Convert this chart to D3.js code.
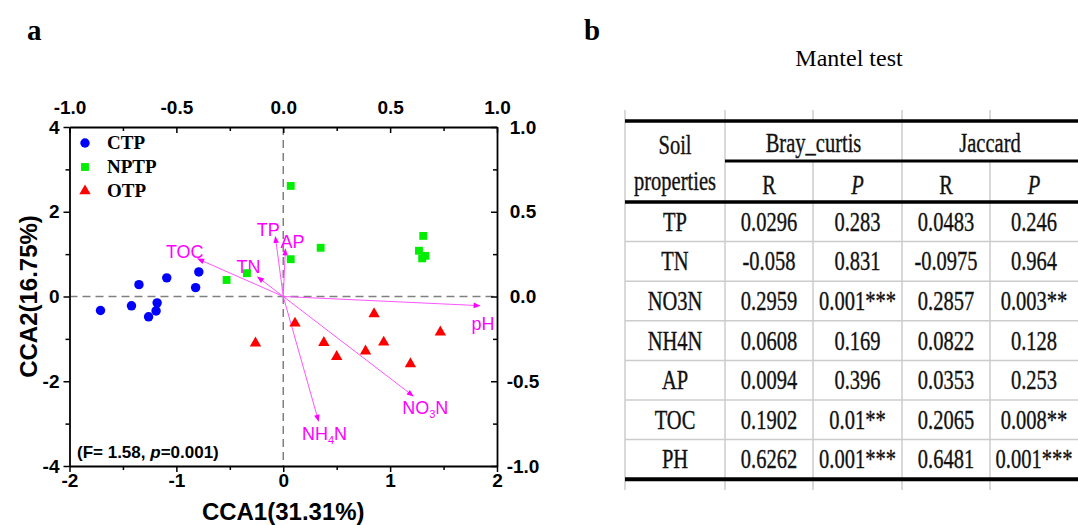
<!DOCTYPE html>
<html>
<head>
<meta charset="utf-8">
<script src="https://cdn.jsdelivr.net/npm/d3@7"></script>
<style>
  body { margin: 0; background: #fff; }
  svg { display: block; }
</style>
</head>
<body>
<svg width="1078" height="525"></svg>
<script>
// ---- panel a : CCA scores (CCA1, CCA2) ----
const ctpX  = [-1.71, -1.42, -1.35, -1.18, -1.19, -1.26, -1.09, -0.79, -0.82];
const ctpY  = [-0.33, -0.22,  0.28, -0.15, -0.34, -0.48,  0.44,  0.58,  0.21];
const nptpX = [0.07, 0.35, 0.07, -0.34, -0.53, 1.31, 1.27, 1.33, 1.30];
const nptpY = [2.61, 1.15, 0.88,  0.55,  0.39, 1.43, 1.08, 0.96, 0.90];
const otpX  = [-0.26,  0.11,  0.38,  0.50,  0.77,  0.85,  0.94,  1.19,  1.47];
const otpY  = [-1.10, -0.63, -1.09, -1.42, -1.29, -0.41, -1.08, -1.59, -0.84];

// environmental vectors, read on the top / right axes (-1..1)
const envNames = ["pH", "NO3N", "NH4N", "TP", "AP", "TN", "TOC"];
const envX = [0.92, 0.608, 0.165, -0.037, 0.010, -0.12, -0.40];
const envY = [-0.054, -0.587, -0.735, 0.353, 0.280, 0.115, 0.222];

const xTicks = [-2, -1, 0, 1, 2];
const yTicks = [-4, -2, 0, 2, 4];
const x2Ticks = [-1, -0.5, 0, 0.5, 1];
const y2Ticks = [-1, -0.5, 0, 0.5, 1];

// ---- panel b : Mantel test table ----
const soilProps = ["TP", "TN", "NO3N", "NH4N", "AP", "TOC", "PH"];
const brayR = ["0.0296", "-0.058", "0.2959", "0.0608", "0.0094", "0.1902", "0.6262"];
const brayP = ["0.283", "0.831", "0.001***", "0.169", "0.396", "0.01**", "0.001***"];
const jacR  = ["0.0483", "-0.0975", "0.2857", "0.0822", "0.0353", "0.2065", "0.6481"];
const jacP  = ["0.246", "0.964", "0.003**", "0.128", "0.253", "0.008**", "0.001***"];

const svg = d3.select("svg");
const sans = "Arial, 'Liberation Sans', sans-serif";
const serif = "'Times New Roman', 'Liberation Serif', serif";
const magenta = "#ff00ff";

// scales
const x = d3.scaleLinear().domain([-2, 2]).range([69.5, 497]);
const y = d3.scaleLinear().domain([-4, 4]).range([466, 127]);
const x2 = d3.scaleLinear().domain([-1, 1]).range(x.range());
const y2 = d3.scaleLinear().domain([-1, 1]).range(y.range());

const minor = (ticks) => d3.range(ticks.length - 1).map(i => (ticks[i] + ticks[i + 1]) / 2);

// panel letters
svg.append("text").attr("x", 27).attr("y", 40).text("a")
  .attr("font-family", serif).attr("font-weight", "bold").attr("font-size", 29);
svg.append("text").attr("x", 584).attr("y", 40).text("b")
  .attr("font-family", serif).attr("font-weight", "bold").attr("font-size", 29);

// dashed zero lines
svg.append("line").attr("x1", x(-2)).attr("x2", x(2)).attr("y1", y(0)).attr("y2", y(0))
  .attr("stroke", "#808080").attr("stroke-width", 1.5).attr("stroke-dasharray", "8,5");
svg.append("line").attr("x1", x(0)).attr("x2", x(0)).attr("y1", y(4)).attr("y2", y(-4))
  .attr("stroke", "#808080").attr("stroke-width", 1.5).attr("stroke-dasharray", "8,5");

// axes
const styleAxis = g => {
  g.select(".domain").attr("stroke", "#000").attr("stroke-width", 1.8);
  g.selectAll(".tick line").attr("stroke", "#000").attr("stroke-width", 1.5);
  g.selectAll(".tick text").attr("fill", "#000").attr("font-family", sans)
    .attr("font-weight", "bold").attr("font-size", 19);
};

const gB = svg.append("g").attr("transform", `translate(0,${y(-4)})`);
gB.call(d3.axisBottom(x).tickValues(xTicks).tickFormat(d => String(d)).tickSize(6).tickSizeOuter(0).tickPadding(2)).call(styleAxis);
gB.append("g").call(d3.axisBottom(x).tickValues(minor(xTicks)).tickFormat("").tickSize(4)).call(g => g.select(".domain").remove()).call(styleAxis);

const gL = svg.append("g").attr("transform", `translate(${x(-2)},0)`);
gL.call(d3.axisLeft(y).tickValues(yTicks).tickFormat(d => String(d)).tickSize(6).tickSizeOuter(0).tickPadding(4)).call(styleAxis);
gL.append("g").call(d3.axisLeft(y).tickValues(minor(yTicks)).tickFormat("").tickSize(4)).call(g => g.select(".domain").remove()).call(styleAxis);

const gT = svg.append("g").attr("transform", `translate(0,${y(4)})`);
gT.call(d3.axisTop(x2).tickValues(x2Ticks).tickFormat(d => d.toFixed(1)).tickSize(-6).tickSizeOuter(0).tickPadding(13)).call(styleAxis);
gT.append("g").call(d3.axisTop(x2).tickValues(minor(x2Ticks)).tickFormat("").tickSize(-4)).call(g => g.select(".domain").remove()).call(styleAxis);

const gR = svg.append("g").attr("transform", `translate(${x(2)},0)`);
gR.call(d3.axisRight(y2).tickValues(y2Ticks).tickFormat(d => d.toFixed(1)).tickSize(-6).tickSizeOuter(0).tickPadding(26)).call(styleAxis);
gR.selectAll(".tick text").attr("text-anchor", "middle");
gR.append("g").call(d3.axisRight(y2).tickValues(minor(y2Ticks)).tickFormat("").tickSize(-4)).call(g => g.select(".domain").remove()).call(styleAxis);

// axis titles
svg.append("text").attr("x", x(0)).attr("y", 520).attr("text-anchor", "middle")
  .attr("font-family", sans).attr("font-weight", "bold").attr("font-size", 24).text("CCA1(31.31%)");
svg.append("text").attr("transform", `translate(37,${y(0)}) rotate(-90)`).attr("text-anchor", "middle")
  .attr("font-family", sans).attr("font-weight", "bold").attr("font-size", 24).text("CCA2(16.75%)");

// environmental arrows
const defs = svg.append("defs");
defs.append("marker").attr("id", "head").attr("viewBox", "0 0 10 10")
  .attr("refX", 9).attr("refY", 5).attr("markerUnits", "userSpaceOnUse")
  .attr("markerWidth", 9).attr("markerHeight", 7).attr("orient", "auto")
  .append("path").attr("d", "M0,1 L10,5 L0,9 Z").attr("fill", magenta);

const env = envNames.map((n, i) => ({ name: n, vx: envX[i], vy: envY[i] }));
svg.append("g").selectAll("line").data(env).join("line")
  .attr("x1", x2(0)).attr("y1", y2(0))
  .attr("x2", d => x2(d.vx)).attr("y2", d => y2(d.vy))
  .attr("stroke", "#ff55ff").attr("stroke-width", 1)
  .attr("marker-end", "url(#head)");

// label offsets relative to arrow tip (text-anchor middle, baseline)
const labelOff = {
  pH: [3, 24], NO3N: [12, 18], NH4N: [6, 19], TP: [-7, -1], AP: [7, -1], TN: [-9, -4], TOC: [-13, -1]
};
const labels = svg.append("g").selectAll("text").data(env).join("text")
  .attr("x", d => x2(d.vx) + labelOff[d.name][0])
  .attr("y", d => y2(d.vy) + labelOff[d.name][1])
  .attr("text-anchor", "middle").attr("fill", magenta)
  .attr("font-family", sans).attr("font-size", 18);
labels.each(function (d) {
  const t = d3.select(this);
  const m = d.name.match(/^([A-Za-z]+?)(\d)([A-Za-z]+)$/);
  if (m) {
    t.append("tspan").text(m[1]);
    t.append("tspan").text(m[2]).attr("font-size", 11).attr("dy", 4);
    t.append("tspan").text(m[3]).attr("dy", -4);
  } else {
    t.text(d.name);
  }
});

// sample points
const groups = [
  { name: "CTP",  color: "#0000ff", sym: d3.symbolCircle,   size: 70, xs: ctpX,  ys: ctpY },
  { name: "NPTP", color: "#00ee00", sym: d3.symbolSquare,   size: 62, xs: nptpX, ys: nptpY },
  { name: "OTP",  color: "#ff0000", sym: d3.symbolTriangle, size: 56, xs: otpX,  ys: otpY }
];
groups.forEach(g => {
  svg.append("g").selectAll("path").data(g.xs.map((v, i) => [v, g.ys[i]])).join("path")
    .attr("transform", d => `translate(${x(d[0])},${y(d[1])})`)
    .attr("d", d3.symbol(g.sym, g.size))
    .attr("fill", g.color);
});

// legend
const leg = svg.append("g").attr("transform", "translate(85,143)");
groups.forEach((g, i) => {
  const row = leg.append("g").attr("transform", `translate(0,${i * 24})`);
  row.append("path").attr("d", d3.symbol(g.sym, g.size)).attr("fill", g.color);
  row.append("text").attr("x", 22).attr("y", 6).text(g.name)
    .attr("font-family", serif).attr("font-weight", "bold").attr("font-size", 19);
});

// statistic note
const note = svg.append("text").attr("x", 77).attr("y", 458)
  .attr("font-family", sans).attr("font-weight", "bold").attr("font-size", 17);
note.append("tspan").text("(F= 1.58, ");
note.append("tspan").text("p").attr("font-style", "italic");
note.append("tspan").text("=0.001)");

// ---- table ----
svg.append("text").attr("x", 849).attr("y", 66).attr("text-anchor", "middle")
  .attr("font-family", serif).attr("font-size", 24).text("Mantel test");

const colX = [625, 725, 813, 902, 990, 1078];
const tTop = 121, tMid = 161, tHead = 202, rowH = 39.6;
const tBot = tHead + rowH * soilProps.length;
const grid = svg.append("g").attr("stroke", "#cccccc").attr("stroke-width", 1.5);
colX.slice(0, 5).forEach((cx, i) => {
  if (i === 2 || i === 4) {
    grid.append("line").attr("x1", cx).attr("x2", cx).attr("y1", 110).attr("y2", tTop);
    grid.append("line").attr("x1", cx).attr("x2", cx).attr("y1", tMid).attr("y2", 490);
  } else {
    grid.append("line").attr("x1", cx).attr("x2", cx).attr("y1", 110).attr("y2", 490);
  }
});
d3.range(1, soilProps.length).forEach(i => {
  grid.append("line").attr("x1", colX[0]).attr("x2", colX[5])
    .attr("y1", tHead + i * rowH).attr("y2", tHead + i * rowH);
});
const rule = (x1, x2, yy, w) => svg.append("line").attr("x1", x1).attr("x2", x2)
  .attr("y1", yy).attr("y2", yy).attr("stroke", "#000").attr("stroke-width", w);
rule(colX[0], colX[5], tTop, 3.5);
rule(colX[1], colX[5], tMid, 3);
rule(colX[0], colX[5], tHead, 3.5);
rule(colX[0], colX[5], tBot, 4);

const cellText = (cx, base, str, italic) => {
  svg.append("text").attr("transform", `translate(${cx},${base}) scale(0.76,1)`)
    .attr("text-anchor", "middle").attr("font-family", serif).attr("font-size", 27)
    .attr("font-style", italic ? "italic" : "normal")
    .attr("fill", "#111").attr("stroke", "#111").attr("stroke-width", 0.35)
    .text(str);
};
const mid = i => (colX[i] + colX[i + 1]) / 2;
cellText(mid(0), 154, "Soil");
cellText(mid(0), 190, "properties");
cellText((colX[1] + colX[3]) / 2, 152, "Bray_curtis");
cellText((colX[3] + colX[5]) / 2, 152, "Jaccard");
["R", "P", "R", "P"].forEach((s, i) => cellText(mid(i + 1), 194, s, s === "P"));
soilProps.forEach((p, r) => {
  const base = tHead + (r + 0.5) * rowH + 9;
  [p, brayR[r], brayP[r], jacR[r], jacP[r]].forEach((s, c) => cellText(mid(c), base, s));
});
</script>
</body>
</html>
